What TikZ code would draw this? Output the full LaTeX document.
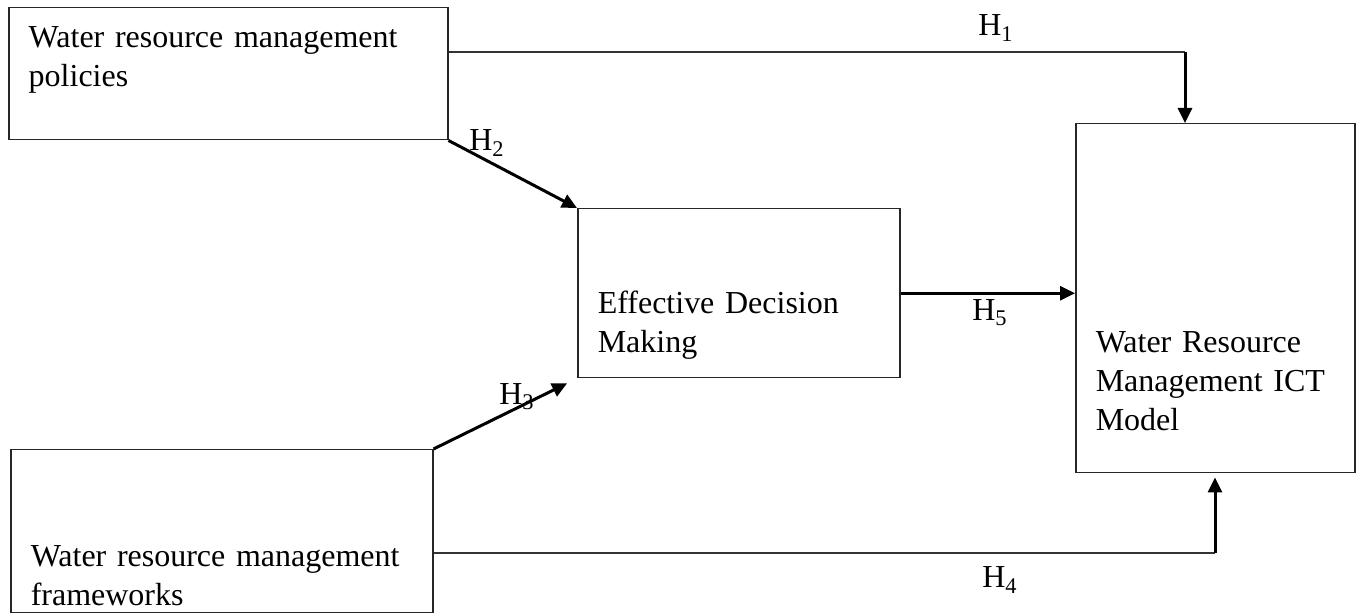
\documentclass[tikz,border=0pt]{standalone}
\usepackage{fontspec}
\setmainfont{Liberation Serif}
\usetikzlibrary{arrows.meta}

\begin{document}
\begin{tikzpicture}[
  x=0.5pt, y=-0.5pt,
  font=\fontsize{16pt}{19.5pt}\selectfont,
  factor/.style={rectangle, draw=black!85, line width=0.75pt, anchor=north west,
                 align=left, inner xsep=10pt, inner ysep=0pt},
  arr/.style={-{Triangle[length=7.5pt, width=7pt]}, line width=1.5pt},
  link/.style={line width=0.8pt, draw=black!80},
  hyp/.style={inner sep=0pt}
]
\useasboundingbox (0,0) rectangle (1356,613);

\node[factor, text width=199.5pt, text height=20pt, text depth=46pt] (pol) at (8,7)
  {Water resource management\\policies};
\node[factor, text width=191pt, text height=58.5pt, text depth=23pt] (fw) at (10,449)
  {Water resource management\\frameworks};
\node[factor, text width=141pt, text height=52.5pt, text depth=32pt] (edm) at (577,208)
  {Effective Decision\\Making};
\node[factor, text width=119.5pt, text height=114.5pt, text depth=60pt] (ict) at (1075,123)
  {Water Resource\\Management ICT\\Model};

% bends of the two elbow links
\coordinate (b1) at (1185,52);
\coordinate (b4) at (1215,553);

\draw[link] (pol.east |- b1) -- (b1);
\draw[arr] (b1) -- (ict.north -| b1);
\draw[arr] (pol.south east) -- (edm.north west);
\draw[arr, shorten >=5.5pt] (fw.north east) -- (edm.south west);
\draw[arr] (edm.east) -- (edm.east -| ict.west);
\draw[link, line width=1pt] (fw.east |- b4) -- (b4);
\draw[arr, shorten >=2pt] (b4) -- (ict.south -| b4);

\node[hyp] (h1) at (996,28) {H\textsubscript{1}};
\node[hyp] (h2) at (487,143) {H\textsubscript{2}};
\node[hyp] (h3) at (517,397) {H\textsubscript{3}};
\node[hyp] (h5) at (990,313) {H\textsubscript{5}};
\node[hyp] (h4) at (1000,580) {H\textsubscript{4}};
\end{tikzpicture}
\end{document}
